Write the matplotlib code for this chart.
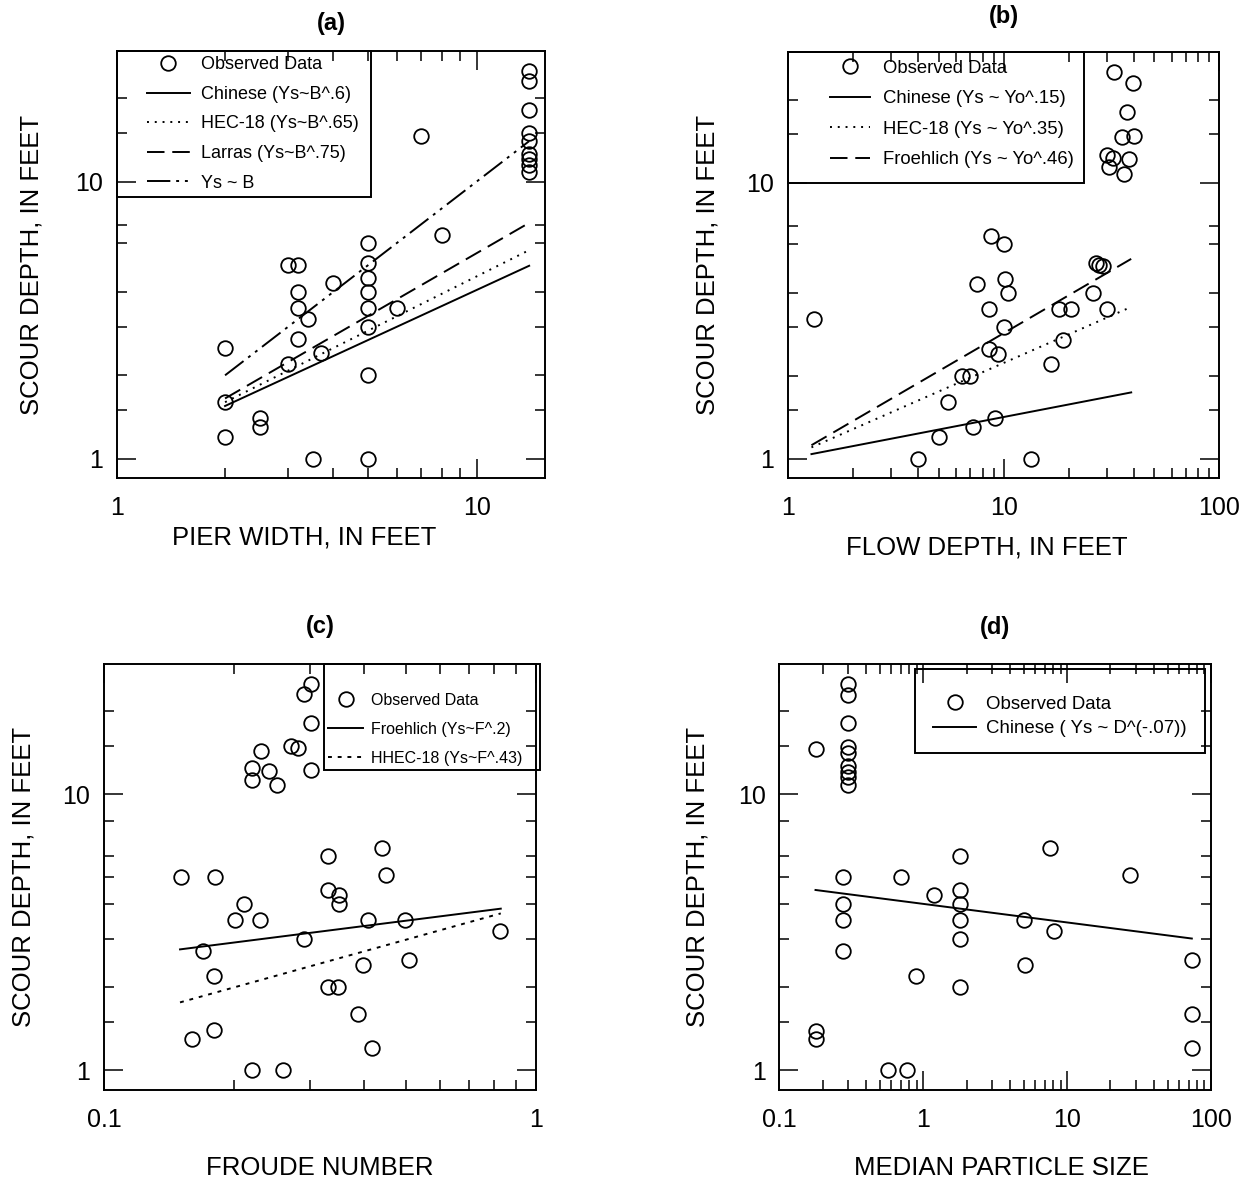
import matplotlib.pyplot as plt
from matplotlib.patches import Rectangle
from matplotlib.ticker import FixedLocator, NullFormatter, FuncFormatter, LogLocator

plt.rcParams['font.family'] = ['Liberation Sans', 'DejaVu Sans']

# (a) pier width vs scour depth
pier_width = [2, 2, 2, 2.5, 2.5, 3, 3, 3.2, 3.2, 3.2, 3.2, 3.4, 3.5, 3.7, 4,
              5, 5, 5, 5, 5, 5, 5, 5, 6, 7, 8,
              14, 14, 14, 14, 14, 14, 14, 14, 14]
pier_scour = [2.5, 1.6, 1.2, 1.4, 1.3, 5.0, 2.2, 5.0, 4.0, 3.5, 2.7, 3.2, 1.0, 2.4, 4.3,
              6.0, 5.1, 4.5, 4.0, 3.5, 3.0, 2.0, 1.0, 3.5, 14.6, 6.4,
              25.1, 23.0, 18.1, 15.0, 14.0, 12.6, 12.1, 11.5, 10.8]
pier_line_x = [2, 14]
pier_chinese = [1.55, 4.97]
pier_hec18 = [1.6, 5.66]
pier_larras = [1.65, 7.1]
pier_linear = [2.0, 14.0]

# (b) flow depth vs scour depth
flow_depth = [1.31, 4, 5, 5.5, 6.4, 7.0, 7.2, 7.5, 8.5, 8.75, 8.55, 9.1, 9.4, 10, 10,
              10.1, 10.5, 13.3, 16.6, 18.1, 18.9, 20.4, 26, 26.8, 27.5, 28.7, 30.2,
              32.6, 39.6, 37.2, 35.3, 40, 30.2, 32.1, 30.9, 38, 36.1]
flow_scour = [3.2, 1.0, 1.2, 1.6, 2.0, 2.0, 1.3, 4.3, 3.5, 6.4, 2.5, 1.4, 2.4, 6.0, 3.0,
              4.5, 4.0, 1.0, 2.2, 3.5, 2.7, 3.5, 4.0, 5.1, 5.05, 5.0, 3.5,
              25.1, 22.9, 18.0, 14.6, 14.8, 12.6, 12.3, 11.4, 12.2, 10.8]
flow_line_x = [1.28, 39]
flow_chinese = [1.04, 1.74]
flow_hec18 = [1.10, 3.55]
flow_froehlich = [1.12, 5.3]

# (c) Froude number vs scour depth
froude = [0.151, 0.16, 0.17, 0.18, 0.18, 0.181, 0.201, 0.211, 0.22, 0.22, 0.22, 0.23,
          0.231, 0.241, 0.252, 0.26, 0.271, 0.281, 0.29, 0.29, 0.302, 0.302, 0.302,
          0.33, 0.33, 0.33, 0.349, 0.35, 0.35, 0.387, 0.398, 0.409, 0.417, 0.44,
          0.451, 0.499, 0.51, 0.828]
froude_scour = [5.0, 1.3, 2.7, 2.2, 1.4, 5.0, 3.5, 4.0, 1.0, 12.5, 11.3, 3.5,
                14.4, 12.2, 10.8, 1.0, 15.0, 14.7, 23.1, 3.0, 25.1, 18.1, 12.3,
                6.0, 4.5, 2.0, 2.0, 4.3, 4.0, 1.6, 2.4, 3.5, 1.2, 6.4,
                5.1, 3.5, 2.5, 3.2]
froude_line_x = [0.15, 0.83]
froude_froehlich = [2.74, 3.85]
froude_hhec18 = [1.76, 3.70]

# (d) median particle size vs scour depth
d50 = [0.18, 0.18, 0.18, 0.278, 0.278, 0.278, 0.278,
       0.30, 0.30, 0.30, 0.30, 0.30, 0.30, 0.30, 0.30, 0.30,
       0.57, 0.77, 0.70, 0.886, 1.18, 1.81, 1.81, 1.81, 1.81, 1.81, 1.81,
       5.04, 5.1, 7.6, 8.1, 27.3, 73.6, 73.6, 73.6]
d50_scour = [14.6, 1.39, 1.3, 5.0, 4.0, 3.5, 2.7,
             25.1, 22.9, 18.1, 14.8, 14.1, 12.7, 12.1, 11.6, 10.8,
             1.0, 1.0, 5.0, 2.2, 4.3, 6.0, 4.5, 4.0, 3.5, 3.0, 2.0,
             3.5, 2.4, 6.4, 3.2, 5.1, 2.5, 1.6, 1.2]
d50_line_x = [0.178, 73.6]
d50_chinese = [4.5, 3.0]

DOT = (0, (1, 3))
DASH = (0, (9, 4))
DASHDOTDOT = (0, (12, 3, 1.5, 3, 1.5, 3))
LW = 1.4


def setup(ax, xlim, xmajor, yminor, title, title_y, xlabel, xlab_pos, ylab_x):
    ax.set_xscale('log')
    ax.set_yscale('log')
    ax.set_xlim(xlim)
    ax.set_ylim(0.85, 29.7)
    ax.xaxis.set_major_locator(FixedLocator(xmajor))
    ax.xaxis.set_minor_locator(LogLocator(base=10, subs=range(2, 10), numticks=20))
    ax.xaxis.set_major_formatter(FuncFormatter(lambda v, p: f'{v:g}'))
    ax.xaxis.set_minor_formatter(NullFormatter())
    ax.yaxis.set_major_locator(FixedLocator([1, 10]))
    ax.yaxis.set_minor_locator(FixedLocator(yminor))
    ax.yaxis.set_major_formatter(FuncFormatter(lambda v, p: f'{v:g}'))
    ax.yaxis.set_minor_formatter(NullFormatter())
    ax.tick_params(which='both', direction='in', top=True, right=True, width=1.1)
    ax.tick_params(which='major', length=14, labelsize=18)
    ax.tick_params(which='minor', length=7)
    ax.tick_params(axis='x', which='major', pad=13)
    ax.tick_params(axis='y', which='major', pad=10)
    for s in ax.spines.values():
        s.set_linewidth(1.4)
    ax.text(0.5, title_y, title, transform=ax.transAxes, ha='center', va='center',
            fontsize=17, fontweight='bold')
    ax.set_xlabel(xlabel, fontsize=18.5, va='center')
    ax.xaxis.set_label_coords(*xlab_pos)
    ax.set_ylabel('SCOUR DEPTH, IN FEET', fontsize=18.5, va='center')
    ax.yaxis.set_label_coords(ylab_x, 0.5)


def legend_box(ax, hx, ytop, fs, hl, htp, ls, box):
    ax.legend(loc='upper left', bbox_to_anchor=(hx, ytop), borderpad=0, borderaxespad=0,
              frameon=False, fontsize=fs, handlelength=hl, handletextpad=htp,
              labelspacing=ls)
    x0, y0, x1, y1 = box
    ax.add_patch(Rectangle((x0, y0), x1 - x0, y1 - y0, transform=ax.transAxes,
                           fill=False, lw=1.4, clip_on=False))


def scatter(ax, x, y):
    ax.plot(x, y, ls='none', marker='o', ms=10.5, mfc='none', mec='black', mew=1.3,
            label='Observed Data')


fig = plt.figure(figsize=(12.47, 11.83), dpi=100)
ax_a = fig.add_axes([0.0936, 0.5957, 0.3435, 0.3615])
ax_b = fig.add_axes([0.6322, 0.5957, 0.3456, 0.3601])
ax_c = fig.add_axes([0.0834, 0.0790, 0.3462, 0.3597])
ax_d = fig.add_axes([0.6251, 0.0790, 0.3460, 0.3597])

# (a)
scatter(ax_a, pier_width, pier_scour)
ax_a.plot(pier_line_x, pier_chinese, color='black', lw=LW, ls='-', label='Chinese (Ys~B^.6)')
ax_a.plot(pier_line_x, pier_hec18, color='black', lw=LW, ls=DOT, label='HEC-18 (Ys~B^.65)')
ax_a.plot(pier_line_x, pier_larras, color='black', lw=LW, ls=DASH, label='Larras (Ys~B^.75)')
ax_a.plot(pier_line_x, pier_linear, color='black', lw=LW, ls=DASHDOTDOT, label='Ys ~ B')
setup(ax_a, (1, 15.5), [1, 10], [1.5, 2, 3, 4, 6, 7, 15, 20], '(a)', 1.0625,
      'PIER WIDTH, IN FEET', (0.4385, -0.1396), -0.198)
legend_box(ax_a, 0.07, 0.987, 13, 2.4, 0.59, 0.7, (0, 0.657, 0.5936, 1))

# (b)
scatter(ax_b, flow_depth, flow_scour)
ax_b.plot(flow_line_x, flow_chinese, color='black', lw=LW, ls='-', label='Chinese (Ys ~ Yo^.15)')
ax_b.plot(flow_line_x, flow_hec18, color='black', lw=LW, ls=DOT, label='HEC-18 (Ys ~ Yo^.35)')
ax_b.plot(flow_line_x, flow_froehlich, color='black', lw=LW, ls=DASH, label='Froehlich (Ys ~ Yo^.46)')
setup(ax_b, (1, 100), [1, 10, 100], [1.5, 2, 3, 4, 6, 7, 15, 20], '(b)', 1.085,
      'FLOW DEPTH, IN FEET', (0.46, -0.1636), -0.1866)
legend_box(ax_b, 0.097, 0.982, 13.3, 2.16, 0.7, 0.73, (0, 0.6937, 0.685, 1))

# (c)
scatter(ax_c, froude, froude_scour)
ax_c.plot(froude_line_x, froude_froehlich, color='black', lw=LW, ls='-', label='Froehlich (Ys~F^.2)')
ax_c.plot(froude_line_x, froude_hhec18, color='black', lw=LW, ls=(0, (2, 3)), label='HHEC-18 (Ys~F^.43)')
setup(ax_c, (0.1, 1), [0.1, 1], [1.5, 2, 3, 4, 5, 6, 8, 15, 20], '(c)', 1.089,
      'FROUDE NUMBER', (0.5, -0.1845), -0.187)
legend_box(ax_c, 0.5197, 0.932, 11.5, 2.19, 0.5, 0.87, (0.5105, 0.7504, 1.009, 1))

# (d)
scatter(ax_d, d50, d50_scour)
ax_d.plot(d50_line_x, d50_chinese, color='black', lw=LW, ls='-', label='Chinese ( Ys ~ D^(-.07))')
setup(ax_d, (0.1, 100), [0.1, 1, 10, 100], [1.5, 2, 3, 4, 5, 6, 8, 15, 20], '(d)', 1.085,
      'MEDIAN PARTICLE SIZE', (0.515, -0.1845), -0.189)
legend_box(ax_d, 0.3564, 0.925, 13.4, 2.31, 0.54, 0.4, (0.313, 0.7906, 0.987, 0.9887))

fig.savefig('out.png', dpi=100)
